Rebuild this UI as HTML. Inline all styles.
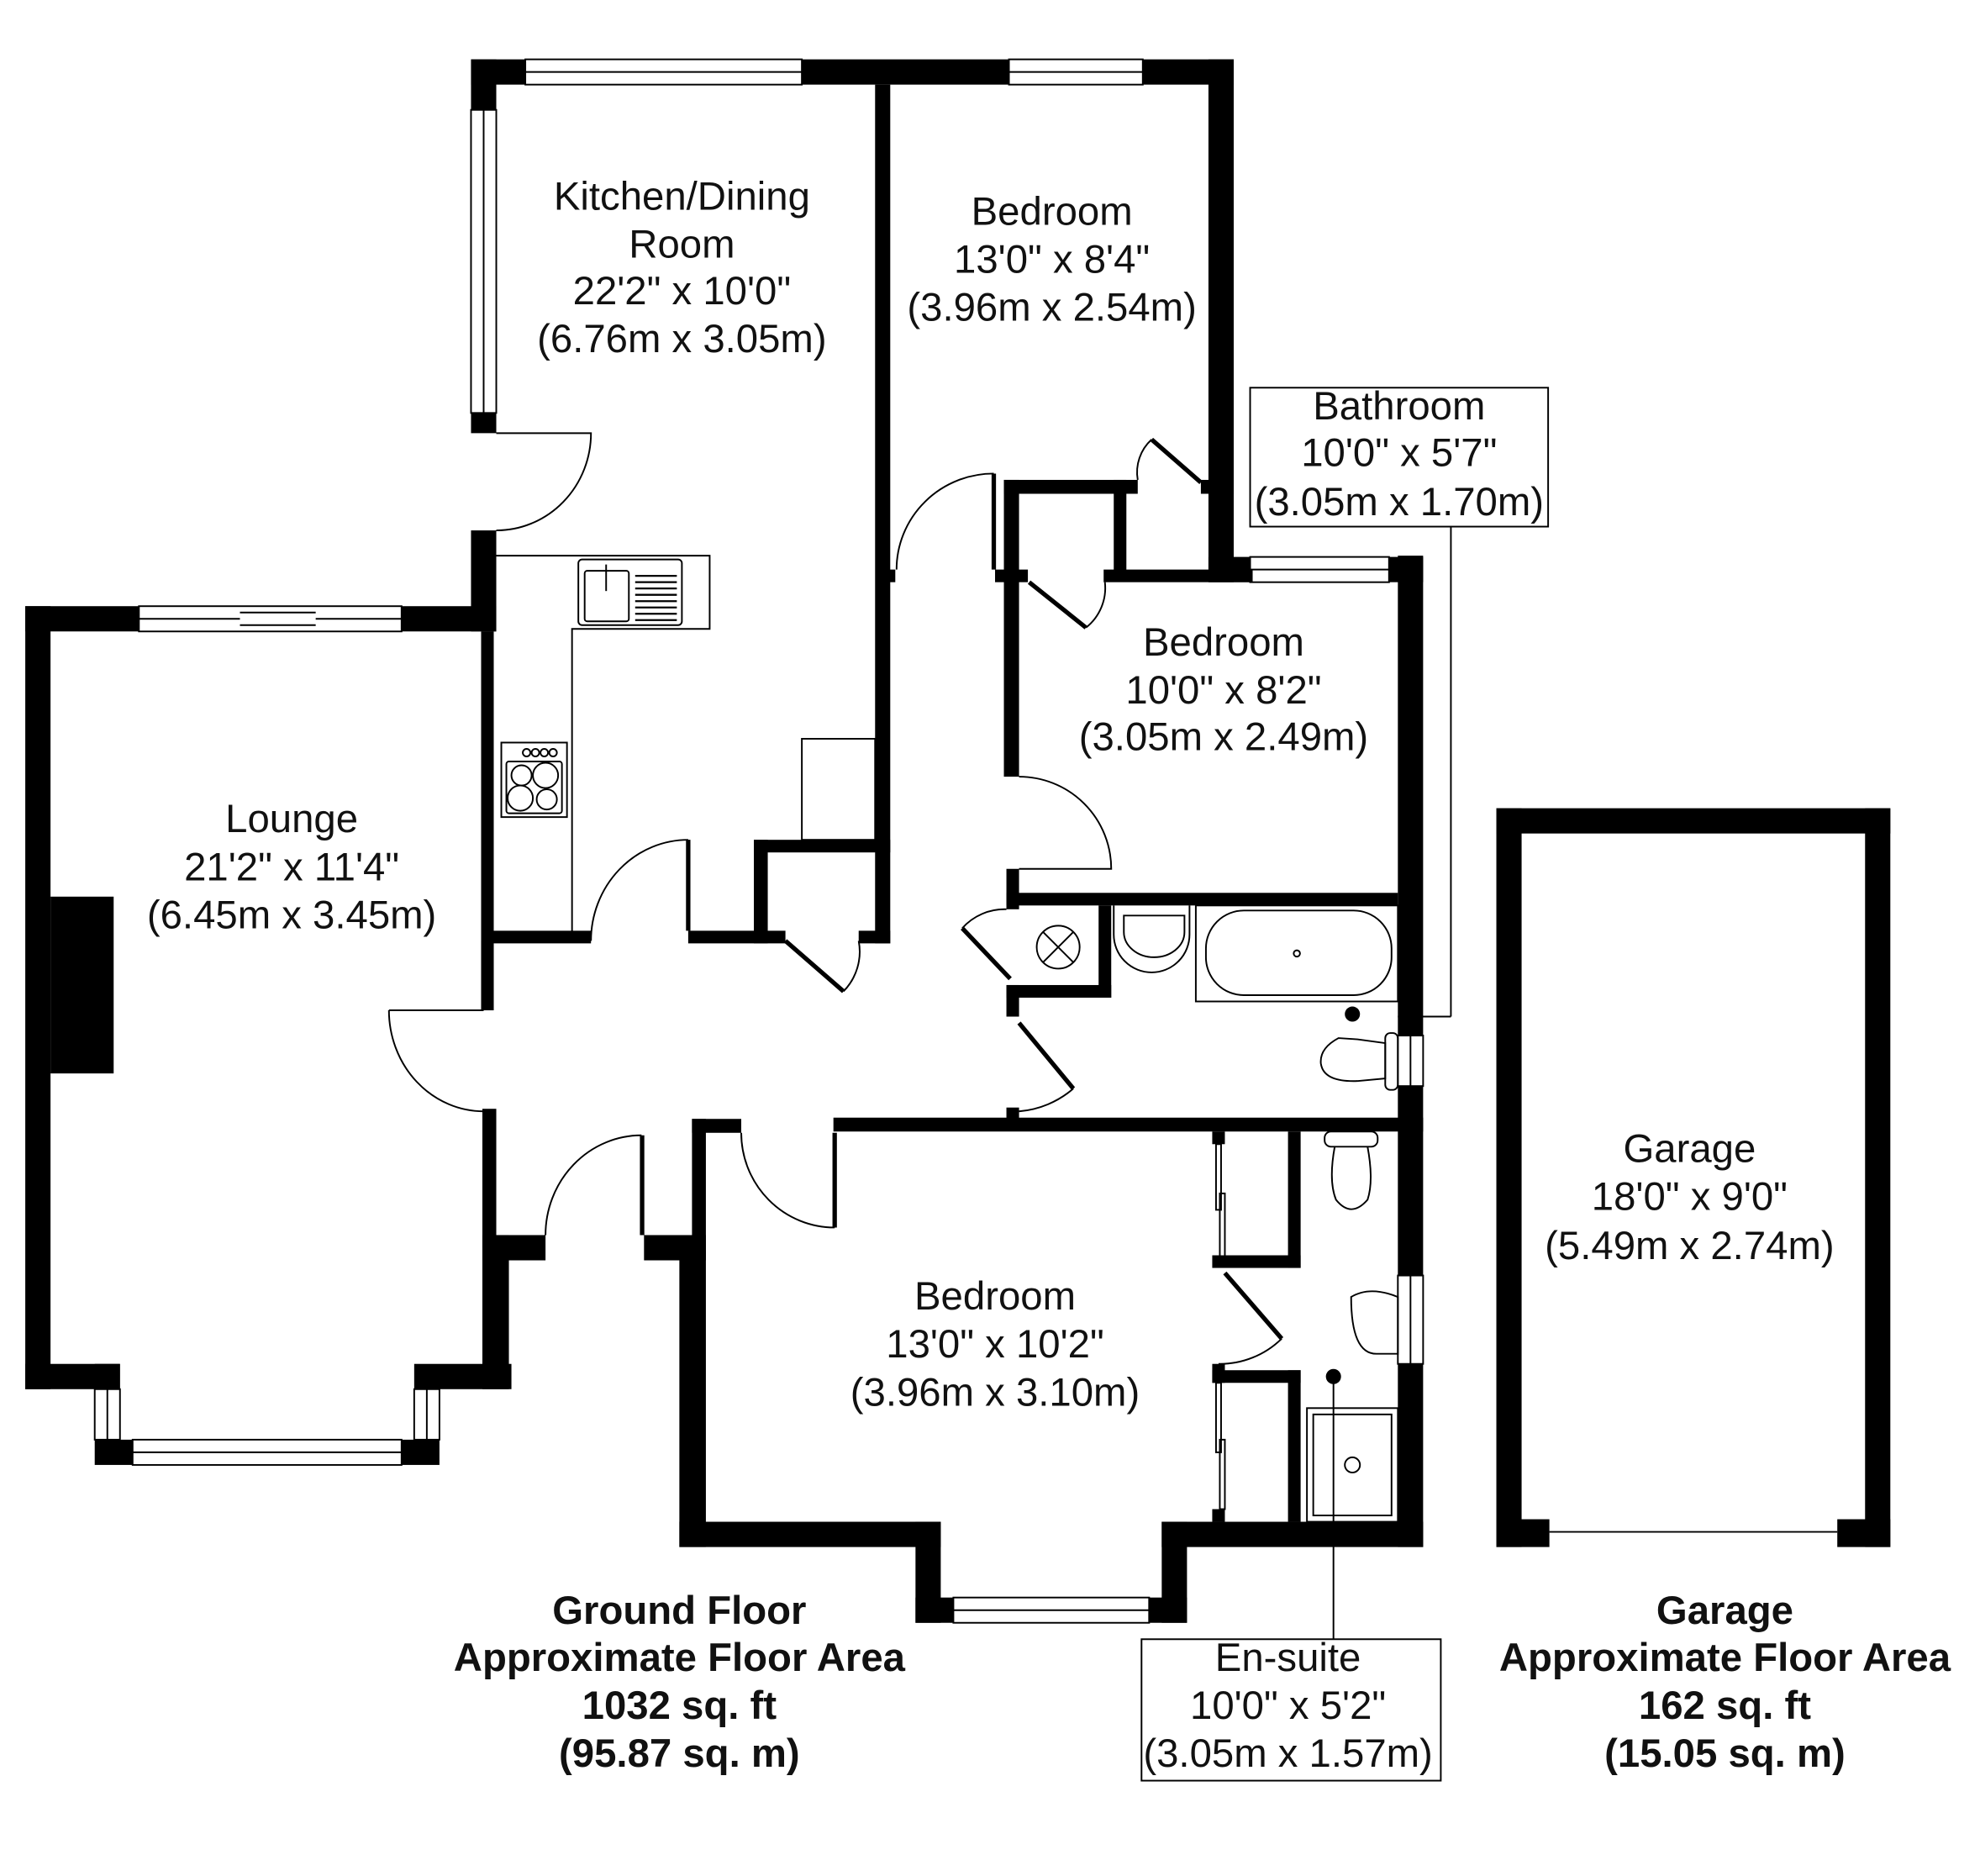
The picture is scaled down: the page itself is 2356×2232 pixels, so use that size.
<!DOCTYPE html>
<html><head><meta charset="utf-8"><style>
html,body{margin:0;padding:0;background:#fff;}
svg{display:block;}
text{font-family:"Liberation Sans",Arial,sans-serif;font-size:31.5px;fill:#111;text-anchor:middle;}
.b{font-weight:bold;}
</style></head><body>
<svg width="2356" height="2232" viewBox="0 0 1568 1485.5" xmlns="http://www.w3.org/2000/svg">
<rect width="1568" height="1486" fill="#fff"/>
<g fill="#000">
<rect x="373" y="47" width="43" height="20"/>
<rect x="635" y="47" width="164" height="20"/>
<rect x="905" y="47" width="72" height="20"/>
<rect x="373" y="47" width="20" height="40"/>
<rect x="373" y="327" width="20" height="16"/>
<rect x="373" y="420" width="20" height="80"/>
<rect x="381" y="500" width="10" height="300"/>
<rect x="20" y="480" width="90" height="20"/>
<rect x="318" y="480" width="75" height="20"/>
<rect x="20" y="480" width="20" height="620"/>
<rect x="40" y="710" width="50" height="140"/>
<rect x="20" y="1080" width="75" height="20"/>
<rect x="75" y="1080" width="20" height="20"/>
<rect x="75" y="1140" width="30" height="20"/>
<rect x="318" y="1140" width="30" height="20"/>
<rect x="328" y="1080" width="77" height="20"/>
<rect x="382" y="878" width="11" height="110"/>
<rect x="382" y="978" width="21" height="122"/>
<rect x="382" y="978" width="50" height="20"/>
<rect x="510" y="978" width="49" height="20"/>
<rect x="548" y="886" width="11" height="112"/>
<rect x="548" y="886" width="39" height="11"/>
<rect x="538" y="990" width="21" height="235"/>
<rect x="538" y="1205" width="207" height="20"/>
<rect x="725" y="1205" width="20" height="80"/>
<rect x="725" y="1265" width="30" height="20"/>
<rect x="910" y="1265" width="30" height="20"/>
<rect x="920" y="1205" width="20" height="80"/>
<rect x="920" y="1205" width="207" height="20"/>
<rect x="1107" y="440" width="20" height="380"/>
<rect x="1107" y="860" width="20" height="150"/>
<rect x="1107" y="1080" width="20" height="145"/>
<rect x="957" y="47" width="20" height="414"/>
<rect x="957" y="441" width="33" height="20"/>
<rect x="1100" y="441" width="27" height="20"/>
<rect x="693" y="67" width="12" height="680"/>
<rect x="597" y="665" width="108" height="10"/>
<rect x="597" y="665" width="11" height="82"/>
<rect x="390" y="737" width="78" height="10"/>
<rect x="545" y="737" width="77" height="10"/>
<rect x="680" y="737" width="25" height="10"/>
<rect x="381" y="745" width="10" height="55"/>
<rect x="699" y="451" width="10" height="10"/>
<rect x="788" y="451" width="26" height="10"/>
<rect x="795" y="380" width="106" height="11"/>
<rect x="795" y="380" width="12" height="235"/>
<rect x="882" y="380" width="10" height="75"/>
<rect x="874" y="451" width="118" height="10"/>
<rect x="951" y="380" width="26" height="11"/>
<rect x="797" y="688" width="10" height="32"/>
<rect x="797" y="707" width="310" height="10"/>
<rect x="870" y="717" width="10" height="73"/>
<rect x="797" y="780" width="83" height="10"/>
<rect x="797" y="780" width="10" height="25"/>
<rect x="797" y="877" width="10" height="10"/>
<rect x="660" y="885" width="467" height="11"/>
<rect x="960" y="896" width="10" height="10"/>
<rect x="1020" y="896" width="10" height="108"/>
<rect x="960" y="994" width="70" height="10"/>
<rect x="960" y="1080" width="10" height="15"/>
<rect x="960" y="1085" width="70" height="10"/>
<rect x="1020" y="1085" width="10" height="120"/>
<rect x="960" y="1195" width="10" height="10"/>
<rect x="1185" y="640" width="312" height="20"/>
<rect x="1185" y="640" width="20" height="585"/>
<rect x="1477" y="640" width="20" height="585"/>
<rect x="1185" y="1203" width="42" height="22"/>
<rect x="1455" y="1203" width="42" height="22"/>
<circle cx="1071" cy="803" r="6"/>
<circle cx="1056" cy="1090" r="6"/>
</g>
<g stroke="#000" stroke-width="3.5">
<line x1="622" y1="745" x2="668" y2="785"/>
<line x1="815" y1="461" x2="860" y2="497"/>
<line x1="912" y1="348" x2="951" y2="382"/>
<line x1="762" y1="735" x2="800" y2="775"/>
<line x1="807" y1="810" x2="850" y2="862"/>
<line x1="970" y1="1008" x2="1015" y2="1060"/>
<line x1="508.5" y1="899" x2="508.5" y2="978"/>
<line x1="661" y1="897" x2="661" y2="972"/>
<line x1="787" y1="375" x2="787" y2="451"/>
<line x1="545" y1="665" x2="545" y2="737"/>
</g>
<g fill="none" stroke="#000" stroke-width="1.3">
<rect x="416" y="47" width="219" height="20"/><line x1="416" y1="57" x2="635" y2="57"/>
<rect x="799" y="47" width="106" height="20"/><line x1="799" y1="57" x2="905" y2="57"/>
<rect x="373" y="87" width="20" height="240"/><line x1="383" y1="87" x2="383" y2="327"/>
<rect x="110" y="480" width="208" height="20"/><line x1="110" y1="490" x2="190" y2="490"/><line x1="250" y1="490" x2="318" y2="490"/><line x1="190" y1="485" x2="250" y2="485"/><line x1="190" y1="495" x2="250" y2="495"/>
<rect x="75" y="1100" width="20" height="40"/><line x1="85" y1="1100" x2="85" y2="1140"/>
<rect x="328" y="1100" width="20" height="40"/><line x1="338" y1="1100" x2="338" y2="1140"/>
<rect x="105" y="1140" width="213" height="20"/><line x1="105" y1="1150" x2="318" y2="1150"/>
<rect x="755" y="1265" width="155" height="20"/><line x1="755" y1="1275" x2="910" y2="1275"/>
<rect x="990" y="441" width="110" height="20"/><line x1="990" y1="451" x2="1100" y2="451"/>
<rect x="1107" y="820" width="20" height="40"/><line x1="1117" y1="820" x2="1117" y2="860"/>
<rect x="1107" y="1010" width="20" height="70"/><line x1="1117" y1="1010" x2="1117" y2="1080"/>
<line x1="1227" y1="1213" x2="1455" y2="1213"/>
<path d="M393 343 H468 A75 77 0 0 1 393 420"/>
<path d="M468 745 A77 80 0 0 1 545 665"/>
<path d="M668 785 A45 45 0 0 0 680 745"/>
<path d="M710 451 A77 76 0 0 1 787 375"/>
<path d="M860 497 A40 40 0 0 0 875 461"/>
<path d="M912 348 A35 35 0 0 0 901 380"/>
<path d="M807 615 A73 73 0 0 1 880 688 H807"/>
<path d="M762 735 A45 45 0 0 1 797 720"/>
<path d="M850 862 A75 75 0 0 1 807 880"/>
<path d="M308 800 H383 M308 800 A75 80 0 0 0 383 880"/>
<path d="M432 978 A76 79 0 0 1 508 899"/>
<path d="M587 897 A74 75 0 0 0 661 972"/>
<path d="M1015 1060 A70 70 0 0 1 965 1080"/>
<rect x="963" y="906" width="4" height="52"/><rect x="966" y="945" width="4" height="50"/>
<rect x="963" y="1095" width="4" height="55"/><rect x="966" y="1140" width="4" height="55"/>
<path d="M393 440 H562 V498 H453 V745"/>
<rect x="458" y="443" width="82" height="52" rx="3"/>
<rect x="463" y="452" width="35" height="40" rx="2"/>
<line x1="480" y1="447" x2="480" y2="468"/>
<g stroke-width="1.5"><line x1="503" y1="456" x2="536" y2="456"/><line x1="503" y1="461" x2="536" y2="461"/><line x1="503" y1="466" x2="536" y2="466"/><line x1="503" y1="471" x2="536" y2="471"/><line x1="503" y1="476" x2="536" y2="476"/><line x1="503" y1="481" x2="536" y2="481"/><line x1="503" y1="486" x2="536" y2="486"/><line x1="503" y1="491" x2="536" y2="491"/></g>
<rect x="397" y="588" width="52" height="59"/>
<rect x="401" y="603" width="44" height="41" rx="2"/>
<circle cx="413" cy="614" r="8"/><circle cx="432" cy="614" r="10"/><circle cx="412" cy="632" r="10"/><circle cx="433" cy="633" r="8"/>
<circle cx="424" cy="596" r="3"/><circle cx="431" cy="596" r="3"/><circle cx="417" cy="596" r="3"/><circle cx="438" cy="596" r="3"/>
<rect x="635" y="585" width="58" height="80"/>
<circle cx="838" cy="750" r="17"/><line x1="826" y1="738" x2="850" y2="762"/><line x1="850" y1="738" x2="826" y2="762"/>
<path d="M882 717 V740 A30 30 0 0 0 942 740 V717"/>
<path d="M890 725 H938 V738 A24 20 0 0 1 890 738 Z"/>
<rect x="947" y="717" width="160" height="76"/>
<rect x="955" y="721" width="147" height="67" rx="30"/>
<circle cx="1027" cy="755" r="2.5"/>
<path d="M1060 822 Q1045 830 1046 842 Q1048 857 1075 856 L1097 854 V826 L1075 823 Z"/>
<rect x="1097" y="818" width="10" height="45" rx="4"/>
<line x1="1107" y1="805" x2="1149" y2="805"/>
<line x1="1149" y1="805" x2="1149" y2="417"/>
<rect x="1049" y="896" width="42" height="12" rx="5"/>
<path d="M1057 908 Q1052 935 1058 950 Q1070 965 1083 950 Q1088 935 1083 908"/>
<path d="M1070 1027 Q1070 1072 1090 1072 H1107 V1027 Q1085 1018 1070 1027 Z"/>
<rect x="1035" y="1115" width="72" height="90"/>
<rect x="1040" y="1120" width="62" height="80"/>
<circle cx="1071" cy="1160" r="6"/>
<line x1="1056" y1="1090" x2="1056" y2="1298"/>
<rect x="990" y="307" width="236" height="110"/>
<rect x="904" y="1298" width="237" height="112"/>
</g>
<text x="540" y="166">Kitchen/Dining</text>
<text x="540" y="204">Room</text>
<text x="540" y="241">22'2" x 10'0"</text>
<text x="540" y="279">(6.76m x 3.05m)</text>
<text x="833" y="178">Bedroom</text>
<text x="833" y="216">13'0" x 8'4"</text>
<text x="833" y="254">(3.96m x 2.54m)</text>
<text x="1108" y="332">Bathroom</text>
<text x="1108" y="369">10'0" x 5'7"</text>
<text x="1108" y="408">(3.05m x 1.70m)</text>
<text x="969" y="519">Bedroom</text>
<text x="969" y="557">10'0" x 8'2"</text>
<text x="969" y="594">(3.05m x 2.49m)</text>
<text x="231" y="659">Lounge</text>
<text x="231" y="697">21'2" x 11'4"</text>
<text x="231" y="735">(6.45m x 3.45m)</text>
<text x="1338" y="920">Garage</text>
<text x="1338" y="958">18'0" x 9'0"</text>
<text x="1338" y="997">(5.49m x 2.74m)</text>
<text x="788" y="1037">Bedroom</text>
<text x="788" y="1075">13'0" x 10'2"</text>
<text x="788" y="1113">(3.96m x 3.10m)</text>
<text x="1020" y="1323">En-suite</text>
<text x="1020" y="1361">10'0" x 5'2"</text>
<text x="1020" y="1399">(3.05m x 1.57m)</text>
<text class="b" x="538" y="1286">Ground Floor</text>
<text class="b" x="538" y="1323">Approximate Floor Area</text>
<text class="b" x="538" y="1361">1032 sq. ft</text>
<text class="b" x="538" y="1399">(95.87 sq. m)</text>
<text class="b" x="1366" y="1286">Garage</text>
<text class="b" x="1366" y="1323">Approximate Floor Area</text>
<text class="b" x="1366" y="1361">162 sq. ft</text>
<text class="b" x="1366" y="1399">(15.05 sq. m)</text>
</svg>
</body></html>
